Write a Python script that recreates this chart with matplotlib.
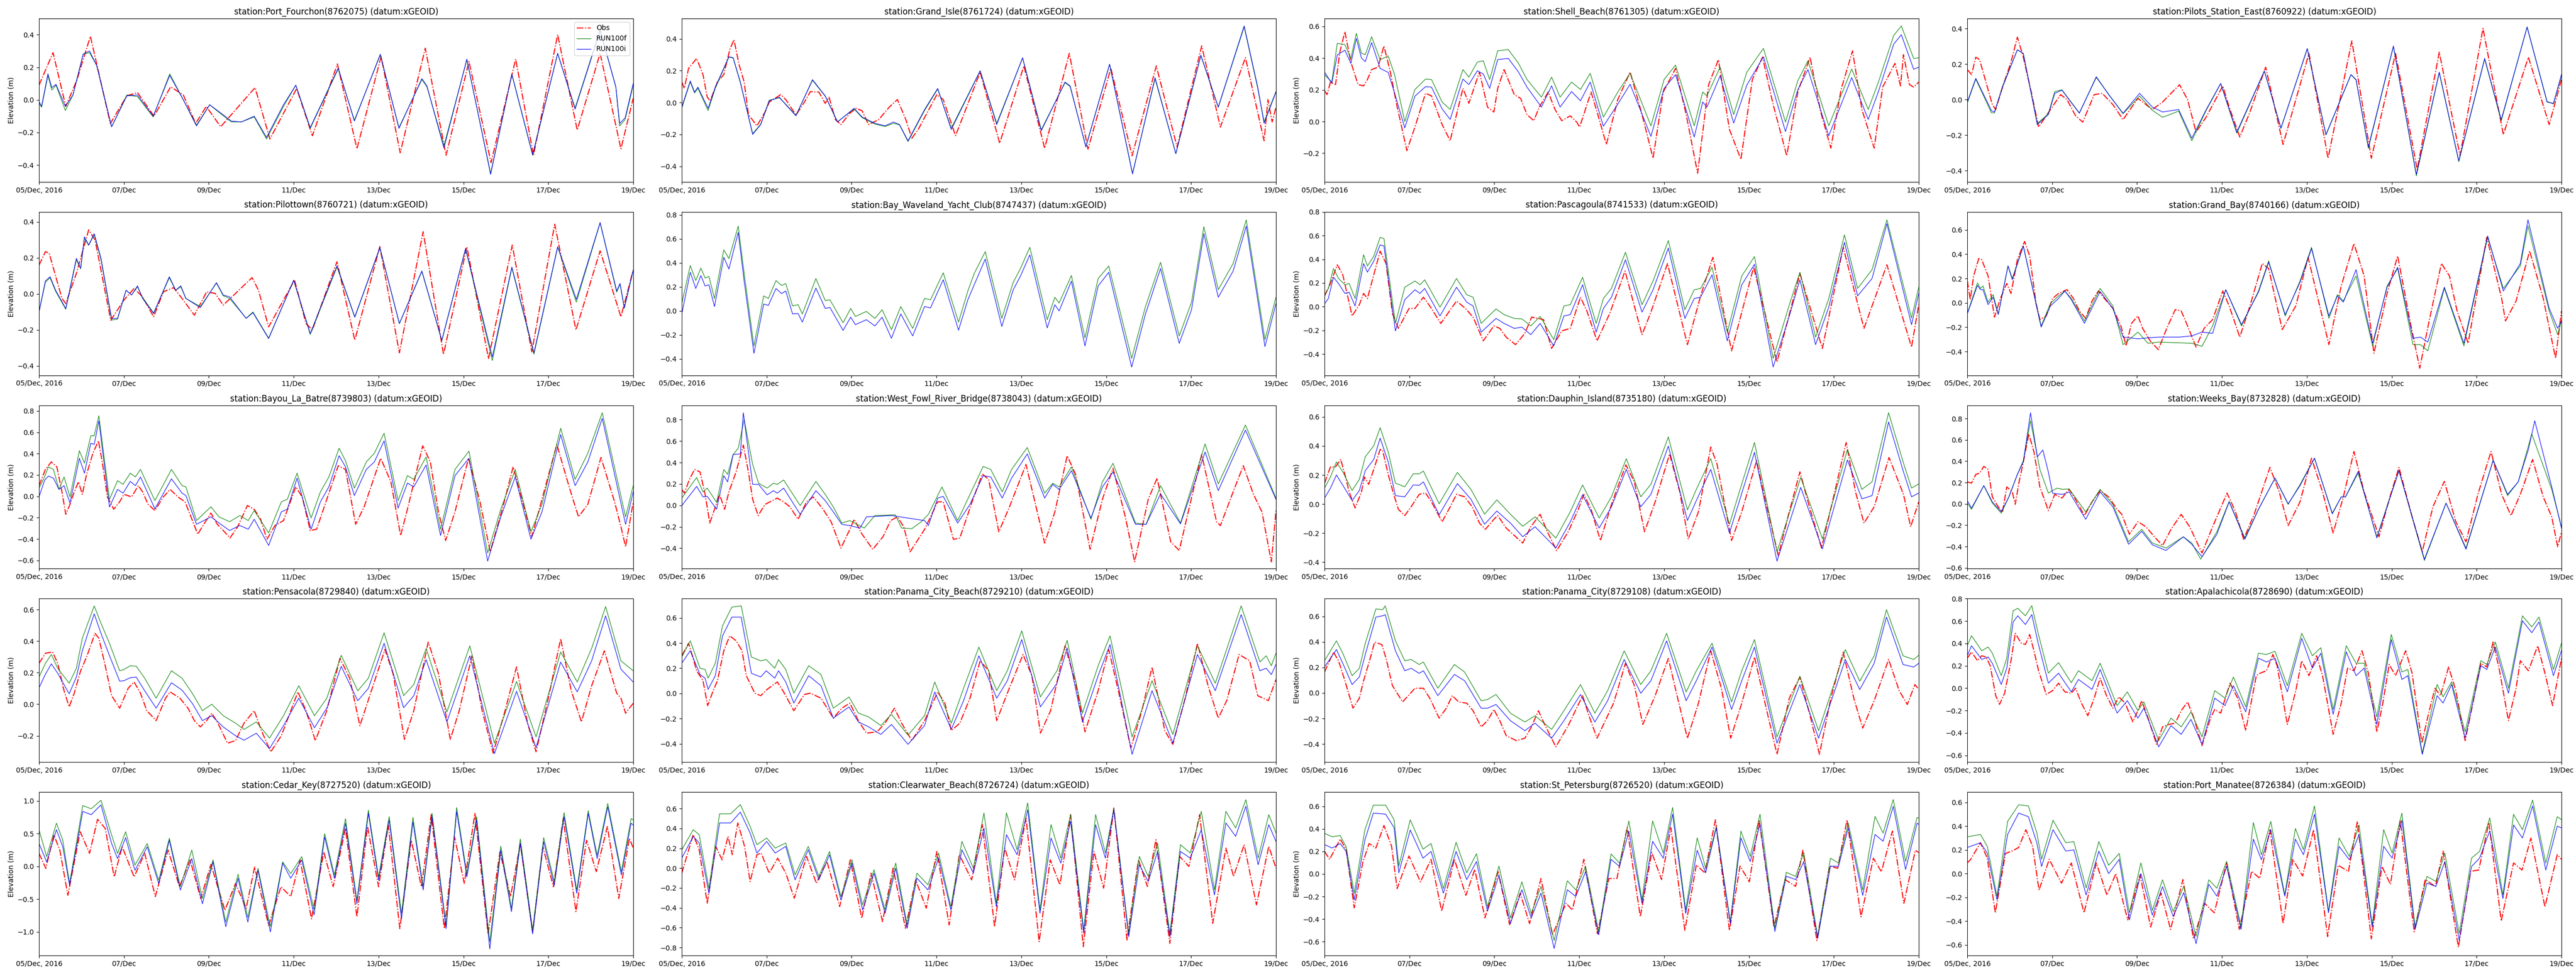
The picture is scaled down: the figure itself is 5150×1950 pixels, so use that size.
import datetime as dt
import matplotlib
matplotlib.use("Agg")
import matplotlib.pyplot as plt

# time in days after 05/Dec/2016 00:00, elevation in m (turning points)

# Port_Fourchon
PF_OT = [0,.33,.63,.89,1.21,1.68,2.07,2.32,2.71,3.1,3.4,3.69,3.94,4.28,5.09,5.44,6.07,6.44,7.03,7.49,8.06,8.51,9.1,9.59,10.13,10.65,11.23,11.65,12.22,12.68,13.22,13.71,14]
PF_OV = [.09,.29,-.04,.12,.39,-.145,.025,.045,-.10,.08,.03,-.145,-.04,-.165,.075,-.24,.07,-.22,.22,-.30,.265,-.325,.317,-.34,.235,-.385,.25,-.34,.40,-.185,.285,-.30,.01]
PF_MT = [0,.06,.21,.3,.4,.62,.8,1.04,1.19,1.36,1.71,2.07,2.32,2.69,3.08,3.4,3.71,4.02,4.28,4.53,4.77,5.07,5.36,5.76,6.05,6.39,7.05,7.43,8.04,8.48,9.02,9.14,9.54,10.08,10.64,11.14,11.63,12.22,12.63,13.22,13.59,13.68,13.81,14]
PF_F = [-.02,-.045,.15,.06,.09,-.065,.03,.28,.29,.21,-.165,.03,.02,-.105,.16,0,-.155,-.03,-.085,-.135,-.135,-.105,-.24,-.04,.09,-.175,.19,-.125,.275,-.17,.125,.08,-.28,.245,-.45,.155,-.34,.285,-.05,.43,.08,-.16,-.12,.09]
PF_I = [-.01,-.04,.16,.075,.095,-.04,.03,.28,.30,.21,-.165,.025,.03,-.10,.15,0,-.16,-.03,-.08,-.13,-.135,-.10,-.23,-.03,.09,-.17,.195,-.13,.28,-.175,.13,.085,-.295,.25,-.457,.158,-.335,.285,-.057,.425,.08,-.145,-.11,.10]

# Grand_Isle
GI_OT = [0,.06,.16,.35,.5,.6,.67,.84,.99,1.13,1.23,1.35,1.47,1.57,1.77,1.96,2.06,2.33,2.45,2.69,2.89,3.03,3.23,3.38,3.47,3.62,3.75,3.96,4.11,4.25,4.4,4.64,4.89,5.08,5.28,5.42,5.57,6.01,6.16,6.45,7.03,7.49,8.06,8.55,9.13,9.57,10.11,10.61,11.18,11.67,12.25,12.69,13.28,13.72,13.81,13.91,14]
GI_OV = [.129,.089,.215,.277,.176,.034,.011,.129,.176,.332,.395,.238,.129,-.075,-.146,-.06,.003,.05,.019,-.078,.003,.069,.066,-.005,.034,-.107,-.138,-.067,-.036,-.052,-.138,-.107,-.028,.019,-.107,-.224,-.169,.05,.019,-.208,.191,-.255,.23,-.287,.309,-.292,.215,-.334,.23,-.279,.356,-.154,.282,-.24,.019,-.122,-.028]
GI_MT = [0,.2,.3,.38,.62,.79,1.11,1.21,1.38,1.67,1.86,2.06,2.3,2.45,2.69,3.08,3.38,3.67,4.06,4.25,4.55,4.79,4.99,5.13,5.33,5.72,6.03,6.35,7.03,7.42,8.03,8.47,9.03,9.15,9.52,10.08,10.62,11.15,11.64,12.23,12.64,13.25,13.57,13.72,14]
GI_F = [-.035,.13,.06,.09,-.05,.09,.285,.28,.125,-.195,-.135,.015,.03,-.01,-.08,.14,.04,-.12,-.04,-.095,-.135,-.15,-.13,-.14,-.245,-.05,.085,-.16,.2,-.13,.28,-.17,.125,.1,-.275,.24,-.445,.15,-.32,.295,-.03,.475,.09,-.12,.07]
GI_I = [-.028,.136,.066,.097,-.036,.097,.288,.282,.129,-.2,-.138,.011,.034,-.013,-.083,.144,.042,-.122,-.036,-.091,-.13,-.146,-.122,-.138,-.24,-.044,.089,-.169,.199,-.138,.281,-.177,.129,.105,-.279,.241,-.448,.157,-.321,.298,-.028,.481,.097,-.13,.066]

# Shell_Beach
SB_OT = [0,.06,.14,.26,.36,.48,.62,.79,.92,1.01,1.11,1.26,1.4,1.55,1.7,1.94,2.13,2.38,2.52,2.77,2.96,3.26,3.4,3.65,3.84,3.99,4.08,4.23,4.47,4.62,4.77,4.93,5.06,5.27,5.43,5.59,5.79,5.94,6.01,6.28,6.44,6.64,6.91,7.2,7.48,7.74,7.98,8.27,8.52,8.79,9.05,9.28,9.54,9.81,10.08,10.32,10.57,10.89,11.15,11.44,11.69,11.93,12.17,12.44,12.66,12.95,13.15,13.44,13.57,13.64,13.78,13.88,14]
SB_OV = [.194,.17,.249,.233,.438,.567,.375,.233,.225,.265,.328,.343,.477,.312,.107,-.184,-.035,.178,.162,-.019,-.121,.209,.115,.312,.091,.06,.209,.328,.17,.146,.044,.005,.091,.186,.076,.005,.036,-.003,-.035,.186,.044,-.145,.139,.312,.044,-.231,.186,.335,.044,-.326,.233,.39,-.05,-.239,.265,.406,.107,-.216,.186,.406,.06,-.168,.202,.446,.076,-.168,.217,.367,.225,.422,.233,.217,.249]
SB_MT = [0,.17,.3,.48,.62,.75,.87,.96,1.11,1.31,1.5,1.65,1.89,2.13,2.38,2.52,2.77,2.96,3.26,3.4,3.6,3.74,3.89,4.08,4.33,4.57,4.77,5.11,5.35,5.55,5.82,6.03,6.26,6.57,6.91,7.2,7.69,8.0,8.27,8.71,8.91,9.01,9.32,9.64,9.95,10.34,10.86,11.15,11.39,11.88,12.42,12.81,13.05,13.41,13.59,13.88,14]
SB_F = [.296,.249,.493,.485,.398,.556,.43,.422,.535,.39,.414,.296,0,.202,.268,.265,.123,.076,.328,.28,.375,.383,.265,.446,.454,.367,.265,.154,.28,.154,.249,.202,.304,.028,.186,.304,-.027,.265,.356,-.027,.186,.162,.343,.044,.312,.461,-.003,.257,.383,-.027,.331,.076,.249,.543,.603,.398,.402]
SB_I = [.312,.241,.42,.45,.367,.524,.40,.378,.498,.335,.31,.18,-.04,.16,.22,.217,.08,.013,.268,.233,.32,.30,.209,.391,.398,.312,.217,.091,.225,.091,.189,.131,.249,-.03,.11,.235,-.094,.209,.296,-.098,.123,.091,.288,-.01,.23,.409,-.063,.2,.328,-.09,.277,.013,.189,.488,.548,.33,.343]

# Pilots_Station_East
PSE_OT = [0,.1,.2,.29,.44,.59,.67,.83,1.03,1.18,1.32,1.52,1.68,1.96,2.2,2.35,2.55,2.72,2.99,3.18,3.43,3.67,4.02,4.21,4.36,4.6,5.0,5.19,5.39,5.63,6.02,6.17,6.42,6.66,7.03,7.44,8.05,8.5,9.06,9.52,10.09,10.6,11.12,11.61,12.15,12.63,13.22,13.71,14]
PSE_OV = [.169,.141,.239,.225,.098,-.028,-.056,.07,.211,.352,.239,.028,-.155,-.056,.028,0,-.091,-.127,.028,.035,-.028,-.113,.007,-.028,-.056,-.014,.084,0,-.183,-.098,.077,-.042,-.211,-.07,.183,-.253,.26,-.331,.331,-.331,.26,-.394,.267,-.316,.401,-.197,.239,-.141,.113]
PSE_MT = [0,.2,.57,.64,.83,1.18,1.32,1.65,1.91,2.06,2.23,2.64,3.04,3.33,3.67,4.06,4.36,4.6,4.98,5.29,5.63,5.97,6.35,7.0,7.39,8.01,8.45,9.04,9.16,9.45,10.04,10.58,11.12,11.58,12.19,12.58,13.19,13.66,13.81,14]
PSE_F = [-.02,.115,-.075,-.075,.075,.28,.26,-.135,-.08,.045,.055,-.075,.125,.03,-.08,.02,-.06,-.1,-.065,-.232,-.06,.09,-.19,.16,-.16,.285,-.2,.14,.11,-.275,.3,-.43,.15,-.35,.228,-.12,.41,-.01,-.025,.135]
PSE_I = [-.014,.12,-.063,-.07,.07,.281,.26,-.141,-.084,.035,.053,-.077,.129,.028,-.077,.035,-.042,-.07,-.056,-.218,-.056,.091,-.183,.162,-.162,.288,-.197,.141,.113,-.267,.302,-.422,.155,-.345,.232,-.113,.408,-.014,-.021,.141]

# Pilottown
PT_OT = [0,.15,.24,.54,.63,.88,1.17,1.32,1.49,1.69,2.0,2.24,2.44,2.7,2.93,3.17,3.37,3.66,3.95,4.15,4.34,4.59,5.02,5.17,5.41,6.02,6.29,6.44,7.02,7.44,8.03,8.49,9.05,9.53,10.08,10.59,11.15,11.61,12.15,12.65,13.22,13.71,14]
PT_OV = [.16,.235,.226,-.025,-.053,.114,.356,.30,.096,-.146,-.034,.031,-.016,-.127,.012,.035,-.025,-.118,.012,.003,-.062,-.006,.091,.021,-.183,.077,-.164,-.2,.179,-.257,.263,-.327,.346,-.336,.263,-.359,.272,-.322,.388,-.2,.24,-.127,.133]
PT_MT = [0,.15,.26,.39,.63,.88,.98,1.07,1.17,1.3,1.46,1.71,1.85,2.05,2.18,2.32,2.44,2.7,3.07,3.22,3.34,3.46,3.8,4.18,4.34,4.49,4.88,5.04,5.41,6.0,6.39,7.02,7.44,8.03,8.49,9.02,9.49,10.05,10.68,11.14,11.66,12.22,12.66,13.22,13.61,13.69,13.79,14]
PT_F = [-.1,.065,.09,.015,-.085,.19,.14,.31,.27,.33,.19,-.145,-.14,.02,-.005,.04,-.02,-.105,.09,.02,.04,-.025,-.07,.06,-.01,-.025,-.135,-.1,-.245,.075,-.225,.15,-.13,.255,-.165,.125,-.26,.25,-.37,.145,-.335,.26,-.045,.395,.01,.055,-.08,.13]
PT_I = [-.099,.072,.096,.021,-.081,.198,.142,.318,.272,.335,.198,-.136,-.136,.021,-.006,.045,-.025,-.109,.096,.021,.045,-.025,-.076,.063,-.006,-.016,-.136,-.104,-.248,.077,-.22,.156,-.127,.258,-.164,.128,-.257,.253,-.35,.15,-.327,.263,-.03,.397,.017,.058,-.076,.133]

# Bay_Waveland_Yacht_Club (no observations)
BW_OT = []
BW_OV = []
BW_MT = [0,.2,.33,.45,.55,.64,.77,.99,1.11,1.33,1.47,1.7,1.93,2.04,2.22,2.35,2.45,2.61,2.74,2.84,3.16,3.38,3.49,3.8,3.98,4.09,4.35,4.55,4.72,4.94,5.16,5.44,5.72,5.86,6.16,6.52,6.74,6.89,7.15,7.54,7.81,7.98,8.2,8.61,8.79,8.89,9.18,9.5,9.81,10.06,10.6,10.92,11.28,11.72,12.01,12.3,12.64,12.99,13.3,13.74,14]
BW_F = [.062,.378,.253,.357,.274,.287,.104,.509,.436,.706,.312,-.291,.125,.104,.253,.212,.228,.042,.052,-.025,.27,.087,.093,-.098,.021,-.046,-.004,-.062,.01,-.156,.037,-.145,.104,.093,.318,-.093,.166,.312,.494,-.062,.239,.353,.53,-.073,.114,.066,.295,-.224,.27,.374,-.395,.031,.405,-.208,.073,.702,.177,.395,.758,-.239,.114]
BW_I = [-.025,.322,.187,.295,.208,.218,.037,.447,.349,.654,.249,-.353,.058,.046,.187,.145,.166,-.025,-.021,-.093,.191,.021,.029,-.162,-.052,-.114,-.073,-.125,-.052,-.228,-.025,-.208,.037,.025,.26,-.16,.093,.218,.432,-.129,.177,.291,.467,-.141,.052,0,.249,-.291,.208,.322,-.467,-.031,.353,-.27,.01,.644,.114,.332,.706,-.297,.062]

# Pascagoula
PAS_OT = [0,.14,.3,.43,.65,.82,.92,1.01,1.31,1.45,1.6,1.74,1.99,2.13,2.33,2.48,2.74,3.11,3.32,3.5,3.74,3.99,4.13,4.28,4.5,4.72,4.88,5.16,5.35,5.59,5.79,6.03,6.18,6.42,6.72,7.08,7.48,7.69,8.08,8.55,8.86,9.15,9.59,10.11,10.66,11.2,11.73,12.22,12.71,13.25,13.83,14]
PAS_OV = [.091,.196,.354,.269,-.078,.017,.112,.069,.469,.364,-.057,-.183,-.015,-.015,.08,.006,-.141,.048,-.015,-.088,-.288,-.162,-.183,-.257,-.32,-.225,-.088,-.109,-.352,-.204,-.183,.08,-.036,-.288,-.057,.301,-.236,-.046,.364,-.32,.091,.417,-.373,.333,-.467,.28,-.352,.501,-.183,.354,-.341,.017]
PAS_MT = [0,.09,.21,.33,.48,.58,.72,.92,1.01,1.16,1.31,1.4,1.67,1.89,2.13,2.25,2.36,2.72,3.11,3.35,3.5,3.69,4.04,4.23,4.47,4.65,4.86,5.08,5.4,5.64,5.79,6.08,6.4,6.57,6.76,7.09,7.48,7.74,8.1,8.49,8.71,8.86,9.13,9.49,9.83,10.13,10.57,10.96,11.2,11.57,11.88,12.25,12.56,12.9,13.25,13.83,14]
PAS_F = [.101,.154,.322,.238,.185,.196,.069,.438,.343,.427,.585,.575,-.141,.164,.217,.185,.227,-.004,.238,.101,.08,-.141,-.019,-.067,-.099,-.103,-.162,-.082,-.278,.006,.017,.248,-.141,.069,.154,.459,.017,.217,.558,-.025,.143,.154,.333,-.215,.259,.423,-.436,.027,.291,-.257,.069,.606,.154,.312,.733,-.095,.164]
PAS_I = [.023,.069,.248,.196,.112,.122,.006,.364,.291,.385,.522,.512,-.204,.059,.143,.112,.154,-.078,.164,.038,.006,-.215,-.099,-.141,-.183,-.173,-.236,-.141,-.331,-.078,-.067,.185,-.215,-.015,.08,.396,-.046,.143,.495,-.099,.069,.08,.269,-.288,.185,.358,-.509,-.067,.227,-.32,-.004,.543,.091,.238,.701,-.152,.112]

# Grand_Bay
GB_OT = [0,.07,.15,.27,.34,.49,.64,.78,.93,1.03,1.18,1.35,1.47,1.62,1.71,1.86,2.01,2.15,2.35,2.5,2.64,2.79,2.94,3.09,3.23,3.43,3.62,3.74,3.87,4.02,4.13,4.31,4.5,4.7,4.9,5.04,5.19,5.39,5.58,5.78,6.02,6.17,6.42,6.66,6.95,7.1,7.42,7.74,8.03,8.52,8.81,9.11,9.35,9.58,9.89,10.14,10.43,10.66,10.87,11.17,11.36,11.54,11.8,12.24,12.59,12.68,12.93,13.25,13.57,13.86,14]
GB_OV = [.181,.027,.222,.365,.355,.222,-.117,.037,.16,.078,.355,.505,.386,-.004,-.137,-.107,.037,.078,.109,.037,-.066,-.127,.016,.098,.037,-.045,-.189,-.353,-.168,-.107,-.209,-.312,-.384,-.209,-.055,-.066,-.189,-.363,-.209,-.137,.098,-.025,-.281,-.025,.324,.283,-.219,-.025,.375,-.343,.139,.488,.222,-.414,.078,.386,-.148,-.537,-.168,.324,.222,-.066,-.332,.539,.037,-.148,.016,.427,.037,-.455,-.066]
GB_MT = [0,.24,.31,.37,.49,.61,.73,.96,1.06,1.32,1.74,1.96,2.15,2.3,2.45,2.76,3.13,3.43,3.67,4.02,4.26,4.51,5.0,5.29,5.53,5.78,6.09,6.46,6.86,7.1,7.49,7.84,8.11,8.52,8.72,8.86,9.16,9.55,9.89,10.14,10.5,10.68,10.85,11.24,11.7,12.26,12.63,13.03,13.21,13.71,13.91,14]
GB_F = [-.086,.164,.119,.139,.006,.068,-.09,.304,.201,.468,-.189,-.004,.057,.098,.037,-.148,.119,-.025,-.343,-.24,-.332,-.322,-.328,-.332,-.357,-.189,.109,-.189,.098,.345,-.107,.181,.457,-.127,.068,.016,.222,-.353,.139,.283,-.343,-.343,-.394,.119,-.353,.539,.119,.304,.632,-.066,-.261,-.148]
GB_I = [-.09,.144,.109,.109,-.014,.047,-.096,.304,.191,.468,-.199,-.025,.037,.098,.027,-.168,.094,-.045,-.281,-.295,-.287,-.281,-.281,-.271,-.24,-.25,.109,-.178,.088,.334,-.096,.17,.447,-.107,.057,.006,.273,-.332,.129,.293,-.291,-.281,-.322,.129,-.332,.55,.098,.324,.683,-.045,-.209,-.148]

# Bayou_La_Batre
BLB_OT = [0,.15,.29,.42,.54,.63,.73,.83,.93,1.02,1.12,1.27,1.4,1.49,1.61,1.76,1.9,2.0,2.18,2.34,2.44,2.57,2.73,2.93,3.09,3.27,3.44,3.58,3.74,3.9,4.05,4.2,4.34,4.5,4.68,4.91,5.07,5.22,5.37,5.56,5.76,6.05,6.2,6.39,6.54,6.78,7.05,7.22,7.46,7.66,8.05,8.29,8.52,8.68,9.04,9.22,9.41,9.58,9.8,10.12,10.39,10.63,10.93,11.17,11.41,11.61,12.2,12.49,12.71,12.93,13.24,13.56,13.71,13.82,14]
BLB_OV = [.1,.252,.322,.276,.042,-.168,-.075,.042,.136,.019,.206,.404,.521,.322,-.005,-.121,-.051,.019,-.005,.1,.042,-.075,-.133,-.005,.065,-.005,-.051,-.192,-.355,-.25,-.157,-.262,-.32,-.39,-.285,-.086,-.121,-.215,-.402,-.273,-.227,.089,-.005,-.32,-.308,-.028,.287,.252,-.262,-.098,.357,.136,-.367,-.121,.474,.322,-.145,-.414,-.145,.357,-.051,-.519,-.098,.276,-.075,-.379,.486,.089,-.192,-.075,.364,-.051,-.285,-.472,-.051]
BLB_MT = [0,.13,.22,.34,.47,.59,.73,.95,1.07,1.22,1.3,1.41,1.66,1.85,1.98,2.15,2.27,2.39,2.73,3.12,3.37,3.46,3.71,4.05,4.24,4.49,4.73,4.93,5.07,5.41,5.71,5.85,6.08,6.41,6.63,6.83,7.07,7.22,7.43,7.71,7.9,8.13,8.46,8.68,8.83,9.12,9.46,9.8,10.13,10.57,10.88,11.22,11.59,11.85,12.29,12.63,12.93,13.27,13.82,14]
BLB_F = [.077,.182,.276,.252,.065,.182,-.005,.428,.311,.568,.568,.755,-.028,.147,.112,.217,.182,.252,-.04,.252,.1,.089,-.227,-.098,-.192,-.238,-.18,-.227,-.133,-.343,-.051,-.028,.217,-.203,.042,.182,.451,.334,.077,.322,.404,.591,-.04,.194,.159,.369,-.308,.252,.423,-.53,-.121,.252,-.332,-.075,.638,.159,.404,.783,-.192,.1]
BLB_I = [-.005,.15,.19,.17,.065,.1,-.063,.357,.217,.498,.486,.708,-.1,.065,.03,.14,.1,.182,-.117,.164,.03,.007,-.262,-.192,-.25,-.32,-.273,-.308,-.215,-.46,-.145,-.121,.171,-.308,-.051,.089,.381,.276,.007,.252,.322,.52,-.11,.124,.089,.294,-.367,.194,.357,-.607,-.192,.182,-.402,-.145,.579,.1,.322,.731,-.262,.042]

# West_Fowl_River_Bridge
WF_OT = [0,.06,.18,.3,.43,.55,.66,.79,.89,1.01,1.11,1.28,1.45,1.57,1.67,1.8,1.96,2.25,2.4,2.55,2.74,2.94,3.1,3.33,3.52,3.75,3.96,4.06,4.25,4.5,4.74,4.92,5.08,5.23,5.38,5.57,5.72,6.03,6.16,6.4,6.55,6.84,7.08,7.23,7.47,7.72,8.11,8.55,8.79,9.08,9.28,9.62,9.91,10.16,10.45,10.67,10.99,11.2,11.52,11.72,12.25,12.6,12.69,12.99,13.23,13.47,13.67,13.89,14]
WF_OV = [.149,.114,.242,.335,.312,.102,-.165,-.014,.102,-.037,.126,.312,.563,.312,.056,-.095,.009,.068,.033,-.014,-.13,.033,.079,-.037,-.154,-.398,-.224,-.13,-.27,-.41,-.293,-.142,-.107,-.2,-.433,-.317,-.224,.033,.033,-.317,-.305,.033,.293,.242,-.247,-.014,.382,-.352,-.061,.463,.289,-.41,.056,.347,-.107,-.526,.056,.254,-.34,-.421,.475,-.154,-.189,.126,.37,.102,-.061,-.526,-.049]
WF_FT = [0,.35,.5,.6,.82,.99,1.08,1.21,1.33,1.47,1.67,1.81,2.01,2.16,2.25,2.4,2.79,3.16,3.38,3.57,3.77,3.96,4.3,4.55,5.03,5.18,5.42,5.64,5.81,6.13,6.5,6.79,7.1,7.28,7.55,7.77,8.14,8.55,8.74,8.89,9.18,9.64,9.91,10.16,10.69,10.94,11.28,11.75,12.33,12.64,13.28,14]
WF_F = [.068,.261,.126,.161,.028,.335,.289,.475,.533,.801,.382,.207,.161,.207,.196,.237,-.002,.224,.102,-.014,-.165,-.142,-.212,-.095,-.088,-.212,-.217,-.154,-.084,.172,-.142,.102,.363,.335,.126,.335,.54,.114,.207,.172,.359,-.13,.219,.393,-.165,-.177,.184,-.165,.573,.2,.75,.068]
WF_IT = [0,.35,.5,.6,.82,.99,1.08,1.21,1.38,1.45,1.67,1.81,2.01,2.16,2.25,2.4,2.79,3.16,3.38,3.57,3.77,3.96,4.2,4.35,4.94,5.72,5.81,6.03,6.16,6.5,6.79,7.1,7.28,7.55,7.77,8.14,8.55,8.74,8.89,9.18,9.64,9.91,10.16,10.69,10.94,11.28,11.75,12.33,12.64,13.28,14]
WF_I = [-.002,.177,.079,.084,-.037,.277,.219,.475,.48,.864,.196,.196,.098,.137,.114,.161,-.084,.137,.044,-.061,-.177,-.189,-.212,-.107,-.095,-.142,-.189,.068,.084,-.165,.009,.277,.265,.068,.254,.48,.068,.196,.149,.324,-.119,.172,.312,-.177,-.177,.107,-.172,.498,.137,.703,.056]

# Dauphin_Island
DI_OT = [0,.14,.26,.38,.48,.58,.72,.87,.94,1.04,1.16,1.31,1.37,1.5,1.63,1.74,1.89,2.04,2.23,2.38,2.52,2.77,2.96,3.11,3.3,3.48,3.65,3.79,3.99,4.08,4.28,4.47,4.67,4.86,5.08,5.25,5.47,5.74,5.98,6.11,6.28,6.5,6.76,7.1,7.3,7.54,7.79,8.13,8.37,8.57,8.81,9.1,9.25,9.59,9.83,10.18,10.42,10.69,10.95,11.2,11.44,11.71,11.98,12.29,12.51,12.71,12.95,13.3,13.64,13.81,14]
DI_OV = [.144,.256,.256,.308,.204,.084,-.027,.084,.187,.136,.239,.376,.368,.204,.067,-.036,-.079,-.019,.067,.076,.015,-.122,-.019,.067,.05,-.019,-.131,-.174,-.105,-.079,-.165,-.216,-.268,-.156,-.07,-.191,-.32,-.191,-.036,.067,-.036,-.251,-.002,.27,.153,-.191,.015,.345,.084,-.242,-.053,.393,.273,-.251,-.053,.299,-.019,-.354,-.053,.222,-.036,-.302,.033,.424,.084,-.131,-.019,.321,.067,-.156,.015]
DI_MT = [0,.14,.28,.43,.65,.82,.96,1.16,1.31,1.5,1.67,1.89,2.09,2.23,2.33,2.7,3.13,3.45,3.77,4.06,4.38,4.67,4.96,5.45,5.79,6.08,6.47,6.76,7.11,7.45,7.69,8.1,8.55,8.76,9.1,9.54,10.13,10.66,11.22,11.73,12.32,12.66,12.9,13.29,13.64,13.83,14]
DI_F = [.11,.187,.29,.222,.093,.17,.325,.402,.526,.359,.144,.119,.208,.208,.227,.002,.218,.101,-.07,.029,-.07,-.153,-.088,-.234,-.053,.132,-.096,.05,.313,.05,.136,.462,-.04,.101,.313,-.139,.424,-.328,.184,-.239,.376,.101,.153,.629,.282,.11,.139]
DI_I = [.041,.11,.2,.13,.024,.093,.23,.308,.454,.29,.058,.05,.132,.129,.153,-.074,.141,.033,-.139,-.048,-.131,-.225,-.156,-.302,-.122,.064,-.165,-.019,.239,-.019,.067,.399,-.113,.024,.239,-.199,.356,-.393,.115,-.308,.304,.036,.058,.565,.222,.05,.076]

# Weeks_Bay
WB_OT = [0,.1,.2,.29,.39,.49,.59,.73,.83,.93,1.06,1.13,1.22,1.32,1.45,1.57,1.71,1.91,2.06,2.23,2.4,2.55,2.76,2.94,3.13,3.33,3.53,3.64,3.82,4.02,4.21,4.41,4.6,4.8,5.04,5.24,5.53,5.78,6.12,6.32,6.51,6.76,7.13,7.35,7.56,7.84,8.11,8.37,8.62,8.86,9.11,9.35,9.7,9.94,10.17,10.48,10.72,10.97,11.24,11.51,11.75,12.03,12.34,12.59,12.81,13.03,13.32,13.57,13.77,13.91,14]
WB_OV = [.206,.194,.276,.288,.351,.323,.065,-.028,-.075,.159,.112,-.005,.206,.393,.655,.487,.159,-.063,.089,.054,.136,.042,-.11,.019,.124,.065,-.051,-.098,-.285,-.168,-.215,-.309,-.391,-.239,-.098,-.215,-.461,-.215,.101,-.075,-.332,-.098,.342,.112,-.204,.019,.428,.112,-.274,.065,.491,.112,-.309,.042,.342,-.122,-.449,-.028,.211,-.168,-.356,.089,.491,.089,-.11,.089,.416,.065,-.122,-.402,-.262]
WB_FT = [0,.1,.39,.59,.8,.98,1.18,1.32,1.49,1.71,1.91,2.11,2.25,2.4,2.79,3.13,3.43,3.8,4.11,4.36,4.68,5.09,5.29,5.5,5.88,6.17,6.54,6.86,7.25,7.56,7.84,8.18,8.6,8.81,8.91,9.21,9.65,10.17,10.77,11.28,11.75,12.39,12.73,12.98,13.3,13.77,14]
WB_F = [.007,-.051,.171,.007,-.087,.065,.276,.405,.779,.323,.101,.147,.136,.14,-.075,.136,-.005,-.356,-.239,-.367,-.414,-.309,-.367,-.519,-.262,.023,-.32,-.051,.241,-.005,.182,.428,-.087,.065,.065,.288,-.309,.311,-.531,.007,-.414,.409,.077,.206,.655,.136,-.215]
WB_IT = [0,.1,.39,.59,.8,.98,1.18,1.32,1.49,1.65,1.78,1.91,2.01,2.11,2.25,2.4,2.79,3.13,3.43,3.8,4.11,4.36,4.68,5.09,5.29,5.53,5.88,6.17,6.54,6.86,7.25,7.56,7.84,8.18,8.6,8.81,8.91,9.21,9.65,10.17,10.77,11.28,11.75,12.39,12.73,12.98,13.22,13.37,13.77,14]
WB_I = [.03,-.04,.171,.019,-.075,.065,.276,.393,.854,.44,.505,.299,.1,.094,.089,.112,-.145,.112,-.028,-.379,-.257,-.384,-.437,-.309,-.379,-.496,-.285,.019,-.332,-.051,.241,0,.171,.428,-.094,.065,.065,.304,-.32,.311,-.519,.007,-.426,.409,.089,.206,.51,.779,.159,-.227]

# Pensacola
PEN_OT = [0,.15,.32,.44,.59,.71,.83,.98,1.12,1.32,1.41,1.56,1.71,1.9,2.1,2.24,2.39,2.54,2.76,2.98,3.09,3.32,3.51,3.66,3.8,3.95,4.07,4.2,4.44,4.63,4.83,5.07,5.24,5.46,5.71,6.1,6.29,6.51,6.78,7.09,7.32,7.56,7.85,8.15,8.34,8.61,8.83,9.17,9.41,9.69,9.9,10.2,10.44,10.7,10.98,11.25,11.51,11.71,12.0,12.29,12.54,12.78,13.02,13.32,13.61,13.71,13.82,14]
PEN_OV = [.259,.323,.331,.259,.085,-.017,.07,.212,.299,.449,.418,.244,.054,-.025,.101,.141,.07,-.041,-.104,.038,.078,.038,-.025,-.104,-.144,-.104,-.057,-.112,-.247,-.231,-.12,-.041,-.168,-.302,-.199,.078,-.041,-.231,-.041,.291,.165,-.136,.101,.347,.196,-.223,-.041,.394,.196,-.223,-.041,.307,-.041,-.31,-.041,.236,-.12,-.302,.038,.415,.085,-.112,.117,.339,.07,.038,-.057,.006]
PEN_MT = [0,.15,.29,.44,.71,.88,1.02,1.3,1.46,1.66,1.9,2.0,2.15,2.29,2.49,2.76,3.12,3.37,3.61,3.85,4.07,4.34,4.63,4.83,5.12,5.43,5.76,6.12,6.49,6.78,7.12,7.51,7.76,8.13,8.59,8.83,9.12,9.61,10.15,10.73,11.25,11.71,12.29,12.68,13.02,13.35,13.71,14]
PEN_F = [.172,.259,.315,.228,.133,.228,.418,.623,.513,.386,.212,.22,.244,.241,.165,.038,.212,.165,.07,-.041,0,-.073,-.12,-.16,-.112,-.215,-.073,.117,-.073,.038,.31,.085,.165,.453,.054,.125,.354,-.049,.37,-.247,.144,-.207,.331,.141,.354,.619,.275,.212]
PEN_I = [.104,.19,.256,.196,.066,.172,.339,.573,.449,.308,.146,.149,.168,.172,.085,-.025,.136,.089,.006,-.104,-.073,-.144,-.2,-.228,-.184,-.282,-.136,.038,-.149,-.025,.24,.022,.101,.386,-.022,.054,.283,-.112,.307,-.313,.082,-.275,.267,.078,.275,.56,.222,.141]

# Panama_City_Beach
PCB_OT = [0,.16,.25,.35,.5,.61,.74,.84,.99,1.13,1.28,1.42,1.52,1.72,1.86,2.01,2.25,2.4,2.64,2.89,3.03,3.28,3.57,3.77,3.96,4.16,4.35,4.6,4.79,5.01,5.18,5.42,5.72,6.03,6.2,6.35,6.55,6.79,7.03,7.23,7.42,7.67,8.04,8.25,8.45,8.69,9.03,9.28,9.5,9.81,10.06,10.3,10.58,10.84,11.08,11.38,11.57,11.86,12.15,12.4,12.64,12.84,13.13,13.38,13.57,13.82,14]
PCB_OV = [.299,.398,.299,.18,.101,-.097,.022,.101,.339,.457,.418,.339,.141,.002,-.018,.032,.091,.012,-.137,-.008,.002,-.038,-.196,-.117,-.077,-.216,-.315,-.305,-.236,-.117,-.236,-.374,-.216,.012,-.077,-.295,-.236,-.038,.259,.18,-.216,.002,.309,.141,-.315,-.137,.378,.081,-.305,.022,.348,.002,-.434,-.137,.21,-.295,-.404,-.038,.398,.061,-.196,-.057,.309,.259,-.018,-.057,.111]
PCB_MT = [0,.2,.43,.55,.62,.79,.96,1.18,1.4,1.64,1.86,1.99,2.19,2.28,2.45,2.64,2.99,3.28,3.57,3.94,4.16,4.4,4.69,4.94,5.33,5.72,5.96,6.35,6.64,7.0,7.42,7.67,8.01,8.45,8.84,9.08,9.44,9.81,10.09,10.61,11.08,11.57,12.15,12.57,13.18,13.62,13.77,13.89,14]
PCB_F = [.289,.418,.2,.19,.121,.24,.537,.685,.695,.289,.259,.269,.2,.269,.19,.002,.22,.15,-.117,-.028,-.156,-.186,-.255,-.166,-.331,-.176,.091,-.236,.042,.368,.022,.18,.497,-.028,.18,.422,-.156,.22,.457,-.345,.101,-.325,.378,.081,.695,.25,.299,.22,.319]
PCB_I = [.24,.339,.15,.121,.032,.141,.457,.606,.606,.16,.131,.18,.121,.18,.091,-.077,.141,.061,-.196,-.107,-.226,-.265,-.325,-.246,-.404,-.255,.012,-.285,-.057,.299,-.038,.101,.428,-.107,.081,.362,-.226,.141,.388,-.483,.022,-.394,.309,.022,.626,.18,.2,.15,.23]

# Panama_City
PC_OT = [0,.21,.33,.48,.67,.82,.92,1.06,1.18,1.35,1.45,1.6,1.84,2.13,2.33,2.48,2.7,2.87,3.01,3.16,3.35,3.5,3.69,3.84,3.99,4.13,4.28,4.52,4.72,4.86,5.04,5.2,5.45,5.74,6.08,6.23,6.42,6.81,7.09,7.3,7.5,7.79,8.1,8.32,8.55,8.81,9.1,9.35,9.57,9.83,10.13,10.42,10.66,10.95,11.2,11.44,11.66,11.93,12.22,12.47,12.68,12.95,13.29,13.54,13.73,13.91,14]
PC_OV = [.164,.32,.252,.096,-.119,-.041,.096,.252,.398,.379,.271,.057,-.07,.037,.037,-.041,-.197,-.119,-.021,-.07,-.08,-.139,-.266,-.217,-.129,-.217,-.334,-.373,-.354,-.275,-.139,-.256,-.422,-.256,-.021,-.178,-.354,-.08,.232,.057,-.246,-.021,.271,-.041,-.354,-.08,.33,.037,-.354,-.08,.281,-.139,-.48,-.041,.125,-.178,-.48,-.041,.32,-.041,-.275,-.061,.262,.018,-.09,.066,.027]
PC_MT = [0,.28,.43,.65,.82,.96,1.21,1.37,1.43,1.67,1.89,2.04,2.23,2.33,2.67,3.06,3.3,3.69,3.84,4.04,4.38,4.72,4.96,5.35,5.64,6.03,6.37,6.67,7.06,7.45,7.69,8.06,8.52,8.76,9.13,9.59,9.83,10.13,10.66,11.2,11.64,12.27,12.61,12.95,13.24,13.63,13.88,14]
PC_F = [.252,.408,.311,.135,.193,.389,.658,.652,.682,.408,.252,.262,.223,.242,.037,.223,.164,-.061,-.051,-.012,-.158,-.227,-.178,-.285,-.139,.066,-.158,.018,.33,.066,.174,.467,.008,.174,.389,-.07,.174,.418,-.344,.131,-.295,.34,.092,.291,.652,.291,.262,.295]
PC_I = [.203,.34,.232,.066,.125,.301,.594,.604,.613,.33,.174,.193,.154,.174,-.021,.145,.096,-.119,-.119,-.09,-.217,-.295,-.236,-.354,-.217,-.012,-.227,-.061,.262,-.002,.096,.408,-.061,.096,.359,-.129,.096,.359,-.393,.066,-.354,.262,.027,.232,.594,.223,.203,.232]

# Apalachicola
APA_OT = [0,.1,.24,.34,.44,.54,.67,.76,.88,1.03,1.13,1.27,1.37,1.47,1.57,1.68,1.86,2.01,2.15,2.3,2.45,2.55,2.69,2.84,2.99,3.13,3.28,3.43,3.57,3.72,3.9,4.02,4.11,4.26,4.46,4.6,4.75,4.9,5.04,5.19,5.34,5.53,5.73,5.83,5.97,6.19,6.37,6.56,6.81,6.9,7.05,7.2,7.3,7.54,7.74,7.88,8.05,8.23,8.37,8.62,8.81,8.96,9.11,9.3,9.45,9.65,9.79,9.94,10.09,10.33,10.48,10.71,10.87,11.02,11.15,11.34,11.51,11.73,11.9,12.1,12.24,12.39,12.54,12.75,12.93,13.03,13.22,13.44,13.61,13.79,14]
APA_OV = [.268,.324,.246,.29,.279,.201,-.067,-.145,-.045,.246,.491,.402,.391,.48,.335,.156,-.056,-.022,.045,-.033,-.045,0,-.134,-.246,-.089,.089,-.067,-.179,-.078,-.134,-.301,-.201,-.112,-.268,-.502,-.346,-.324,-.313,-.201,-.123,-.268,-.513,-.268,-.19,-.223,.045,-.089,-.379,.112,.134,.156,.301,.201,-.324,-.022,.246,.112,.29,.112,-.413,-.134,.179,.156,.335,.134,-.391,-.134,.212,.112,.335,.134,-.491,-.223,0,-.067,.19,-.022,-.469,-.156,.223,.19,.413,.156,-.29,0,.246,.156,.379,.134,-.156,.268]
APA_MT = [0,.1,.34,.49,.59,.8,.93,1.08,1.19,1.37,1.52,1.67,1.91,2.15,2.45,2.62,2.94,3.13,3.53,3.77,4.02,4.16,4.51,4.8,5.04,5.27,5.53,5.83,6.07,6.27,6.56,6.86,7.05,7.25,7.54,7.88,8.13,8.33,8.62,8.93,9.16,9.35,9.65,9.99,10.24,10.38,10.72,11.07,11.21,11.41,11.73,12.1,12.24,12.44,12.75,13.08,13.3,13.47,13.81,14]
APA_F = [.379,.469,.335,.368,.313,.112,.268,.692,.714,.647,.737,.491,.134,.228,.049,.156,.067,.223,-.156,-.033,-.201,-.123,-.469,-.268,-.346,-.212,-.435,-.022,-.089,.1,-.167,.313,.301,.33,.022,.491,.29,.362,-.19,.379,.223,.223,-.257,.48,.145,.167,-.58,.033,-.078,.056,-.391,.246,.212,.413,0,.647,.547,.636,.167,.402]
APA_I = [.29,.379,.257,.279,.223,.033,.179,.592,.647,.569,.658,.402,.045,.134,-.033,.078,-.011,.167,-.223,-.112,-.268,-.179,-.525,-.335,-.413,-.279,-.502,-.089,-.156,.022,-.212,.268,.234,.268,-.033,.446,.179,.313,-.234,.324,.112,.179,-.324,.435,.078,.112,-.592,-.067,-.134,.033,-.446,.201,.167,.368,-.045,.603,.496,.592,.112,.335]

# Cedar_Key
CK_OT = [0,.16,.35,.49,.68,.97,1.19,1.38,1.56,1.77,1.96,2.24,2.49,2.74,3.04,3.31,3.56,3.81,4.05,4.38,4.63,4.88,5.08,5.41,5.7,5.93,6.15,6.42,6.71,6.93,7.22,7.49,7.74,8.0,8.23,8.5,8.77,9.01,9.24,9.55,9.79,10.02,10.27,10.58,10.86,11.11,11.34,11.63,11.87,12.12,12.35,12.65,12.9,13.13,13.39,13.66,13.91,14]
CK_OV = [.2,-.03,.48,.25,-.44,.53,.2,.72,.58,-.16,.3,-.16,.2,-.46,.25,-.31,.1,-.49,.03,-.67,-.26,-.64,-.01,-.9,-.31,-.46,.1,-.8,.22,-.31,.58,-.77,.61,-.31,.63,-.95,.4,-.31,.79,-.95,.45,-.26,.81,-1.03,.22,-.46,.35,-1.0,.3,-.31,.73,-.69,.4,-.08,.61,-.49,.43,.28]
CK_MT = [0,.18,.41,.56,.72,1.03,1.23,1.46,1.71,1.85,2.04,2.26,2.55,2.82,3.07,3.33,3.6,3.85,4.1,4.4,4.69,4.92,5.16,5.45,5.74,5.93,6.19,6.48,6.73,6.96,7.22,7.49,7.76,8.0,8.25,8.54,8.81,9.05,9.26,9.59,9.84,10.08,10.31,10.62,10.88,11.13,11.34,11.63,11.89,12.14,12.37,12.67,12.94,13.15,13.4,13.72,13.95,14]
CK_F = [.56,.15,.66,.4,-.26,.93,.88,1.01,.48,.2,.53,.02,.35,-.21,.43,-.31,.25,-.49,.1,-.85,-.12,-.78,-.03,-.92,.07,-.11,.15,-.66,.5,-.13,.73,-.52,.86,-.16,.76,-.72,.75,-.31,.81,-.9,.9,-.11,.76,-1.15,.31,-.64,.42,-.97,.44,-.23,.82,-.36,.85,.17,.96,-.08,.73,.71]
CK_I = [.35,.07,.56,.3,-.29,.84,.79,.94,.35,.12,.44,-.06,.3,-.26,.4,-.36,.12,-.57,.07,-.92,-.18,-.85,-.06,-1.0,.05,-.18,.1,-.74,.45,-.18,.66,-.57,.81,-.21,.71,-.8,.68,-.36,.76,-.95,.84,-.16,.71,-1.26,.25,-.69,.35,-1.03,.38,-.29,.76,-.41,.81,.12,.91,-.13,.66,.63]

# Clearwater_Beach
CW_OT = [0,.27,.41,.6,.8,.95,1.09,1.19,1.32,1.48,1.61,1.77,1.87,2.06,2.26,2.45,2.65,2.94,3.17,3.42,3.72,3.97,4.24,4.46,4.73,4.98,5.27,5.51,5.76,6.01,6.3,6.54,6.83,7.08,7.37,7.61,7.84,8.11,8.42,8.68,8.91,9.16,9.46,9.71,9.94,10.18,10.49,10.76,10.97,11.17,11.5,11.73,11.95,12.2,12.51,12.82,13.0,13.25,13.54,13.83,14]
CW_OV = [-.05,.337,.185,-.354,.219,.084,.32,.135,.455,.219,-.135,.135,.152,-.051,.101,-.051,-.303,.118,-.152,.067,-.387,.084,-.505,-.051,-.539,0,-.606,-.118,-.404,.168,-.572,.135,-.118,.438,-.589,.202,-.118,.505,-.741,.084,-.168,.539,-.791,.168,-.202,.606,-.724,.084,-.185,.286,-.758,.118,.017,.539,-.556,.202,-.084,.236,-.37,.219,0]
CW_MT = [0,.27,.41,.64,.89,1.15,1.38,1.61,1.77,2.0,2.2,2.45,2.67,2.98,3.23,3.48,3.75,4.01,4.26,4.53,4.79,5.04,5.31,5.54,5.8,6.05,6.34,6.6,6.87,7.12,7.41,7.65,7.9,8.15,8.44,8.7,8.93,9.16,9.47,9.75,9.98,10.18,10.53,10.78,10.99,11.21,11.5,11.75,11.98,12.24,12.55,12.82,13.05,13.29,13.58,13.83,14]
CW_F = [.185,.387,.337,-.202,.547,.547,.64,.421,.236,.303,.202,.253,-.067,.219,-.084,.168,-.286,.084,-.37,-.017,-.421,.051,-.57,-.051,-.168,.152,-.387,.269,0,.556,-.354,.556,.185,.657,-.421,.438,.101,.539,-.623,.539,.152,.598,-.657,.118,-.084,.253,-.657,.236,.152,.572,-.219,.572,.404,.69,.101,.539,.354]
CW_I = [.101,.32,.253,-.253,.455,.455,.564,.354,.152,.269,.152,.219,-.118,.185,-.118,.135,-.32,.051,-.421,-.051,-.455,0,-.606,-.101,-.219,.101,-.421,.185,-.051,.404,-.387,.337,.135,.589,-.455,.303,.051,.471,-.657,.438,.101,.589,-.69,.034,-.135,.168,-.69,.168,.101,.387,-.269,.455,.32,.623,.034,.438,.269]

# St_Petersburg
STP_OT = [0,.12,.37,.51,.7,.9,1.05,1.21,1.4,1.58,1.71,1.99,2.26,2.51,2.76,3.06,3.33,3.54,3.78,4.09,4.36,4.61,4.83,5.1,5.37,5.69,5.84,6.11,6.43,6.7,6.89,7.13,7.44,7.71,7.94,8.16,8.49,8.76,8.96,9.21,9.54,9.79,10.01,10.24,10.59,10.85,11.1,11.27,11.6,11.9,12.09,12.31,12.64,12.93,13.12,13.38,13.65,13.92,14]
STP_OV = [.2,.13,.31,.215,-.3,.1,.27,.23,.43,.245,-.13,.16,-.07,.13,-.33,.13,-.19,.04,-.39,.02,-.45,-.17,-.44,-.04,-.54,-.26,-.32,.13,-.53,-.04,-.04,.41,-.38,.19,-.05,.41,-.5,.08,.01,.48,-.5,.07,-.07,.48,-.47,-.05,-.11,.21,-.59,.07,.05,.48,-.38,.14,.02,.38,-.26,.21,.19]
STP_MT = [0,.18,.37,.51,.7,.95,1.15,1.44,1.64,1.75,2.02,2.32,2.51,2.8,3.1,3.35,3.58,3.84,4.11,4.38,4.65,4.87,5.1,5.41,5.72,5.92,6.15,6.46,6.75,6.95,7.17,7.48,7.73,7.98,8.2,8.51,8.78,8.98,9.23,9.56,9.81,10.03,10.26,10.61,10.88,11.1,11.29,11.62,11.92,12.11,12.34,12.68,12.97,13.16,13.4,13.69,13.96,14]
STP_F = [.36,.33,.34,.24,-.17,.39,.61,.61,.48,.07,.48,.22,.27,-.13,.28,.01,.18,-.29,.07,-.39,-.07,-.35,-.111,-.59,-.06,-.141,.067,-.511,.178,.096,.47,-.23,.47,.185,.59,-.319,.32,.052,.42,-.422,.38,.156,.53,-.481,.015,-.022,.19,-.556,.14,.096,.45,-.141,.51,.363,.66,.111,.5,.496]
STP_I = [.26,.23,.27,.2,-.23,.3,.54,.53,.41,.01,.39,.14,.2,-.17,.2,-.05,.11,-.33,-.01,-.44,-.14,-.39,-.17,-.66,-.14,-.2,.02,-.54,.13,.067,.38,-.26,.29,.14,.53,-.35,.21,.01,.41,-.44,.32,.11,.44,-.51,-.02,-.05,.11,-.57,.07,.067,.41,-.19,.35,.29,.6,.04,.45,.44]

# Port_Manatee
PM_OT = [0,.08,.31,.47,.66,.9,1.05,1.21,1.38,1.54,1.69,1.93,2.22,2.45,2.75,3.04,3.29,3.5,3.78,4.07,4.32,4.56,4.79,5.08,5.33,5.59,5.82,6.11,6.41,6.7,6.89,7.13,7.44,7.67,7.9,8.16,8.49,8.74,8.98,9.19,9.52,9.77,9.97,10.2,10.53,10.79,11.03,11.21,11.57,11.86,12.05,12.29,12.58,12.87,13.07,13.28,13.61,13.9,14]
PM_OV = [.09,.12,.26,.131,-.33,.17,.19,.22,.37,.23,-.14,.12,-.08,.09,-.33,.09,-.18,0,-.39,-.01,-.45,-.16,-.47,-.05,-.55,-.25,-.33,.09,-.47,.02,-.04,.37,-.42,.12,-.02,.37,-.53,.07,.018,.44,-.55,.06,-.09,.45,-.49,-.05,-.11,.19,-.62,.02,.03,.43,-.4,.09,.03,.3,-.28,.16,.12]
PM_MT = [0,.31,.47,.7,.95,1.21,1.44,1.64,1.75,2.02,2.32,2.51,2.8,3.1,3.33,3.58,3.82,4.09,4.36,4.6,4.85,5.1,5.39,5.69,5.88,6.11,6.45,6.74,6.93,7.15,7.48,7.73,7.92,8.18,8.51,8.76,9.0,9.23,9.54,9.81,10.01,10.24,10.55,10.83,11.04,11.25,11.59,11.88,12.07,12.31,12.62,12.87,13.08,13.32,13.63,13.9,14]
PM_F = [.31,.33,.23,-.19,.44,.58,.57,.342,.12,.45,.26,.27,-.12,.27,.07,.17,-.33,.09,-.31,-.052,-.32,-.108,-.53,-.052,-.123,.103,-.446,.43,.159,.44,-.179,.38,.201,.57,-.32,.3,.145,.41,-.432,.37,.173,.51,-.446,-.024,-.066,.173,-.503,.131,.187,.47,-.179,.5,.37,.62,.089,.48,.455]
PM_I = [.22,.26,.173,-.22,.33,.51,.48,.258,.06,.37,.19,.2,-.18,.19,0,.12,-.39,0,-.35,-.11,-.36,-.16,-.59,-.09,-.19,.06,-.47,.29,.117,.37,-.19,.29,.159,.5,-.33,.23,.117,.33,-.45,.23,.131,.45,-.47,-.08,-.108,.1,-.56,.06,.131,.36,-.21,.41,.3,.57,.03,.4,.385]

STATIONS = [
    "Port_Fourchon(8762075)", "Grand_Isle(8761724)", "Shell_Beach(8761305)", "Pilots_Station_East(8760922)",
    "Pilottown(8760721)", "Bay_Waveland_Yacht_Club(8747437)", "Pascagoula(8741533)", "Grand_Bay(8740166)",
    "Bayou_La_Batre(8739803)", "West_Fowl_River_Bridge(8738043)", "Dauphin_Island(8735180)", "Weeks_Bay(8732828)",
    "Pensacola(8729840)", "Panama_City_Beach(8729210)", "Panama_City(8729108)", "Apalachicola(8728690)",
    "Cedar_Key(8727520)", "Clearwater_Beach(8726724)", "St_Petersburg(8726520)", "Port_Manatee(8726384)",
]

# (obs_t, obs_v, f_t, f_v, i_t, i_v) per station, same order as STATIONS
SERIES = [
    (PF_OT, PF_OV, PF_MT, PF_F, PF_MT, PF_I),
    (GI_OT, GI_OV, GI_MT, GI_F, GI_MT, GI_I),
    (SB_OT, SB_OV, SB_MT, SB_F, SB_MT, SB_I),
    (PSE_OT, PSE_OV, PSE_MT, PSE_F, PSE_MT, PSE_I),
    (PT_OT, PT_OV, PT_MT, PT_F, PT_MT, PT_I),
    (BW_OT, BW_OV, BW_MT, BW_F, BW_MT, BW_I),
    (PAS_OT, PAS_OV, PAS_MT, PAS_F, PAS_MT, PAS_I),
    (GB_OT, GB_OV, GB_MT, GB_F, GB_MT, GB_I),
    (BLB_OT, BLB_OV, BLB_MT, BLB_F, BLB_MT, BLB_I),
    (WF_OT, WF_OV, WF_FT, WF_F, WF_IT, WF_I),
    (DI_OT, DI_OV, DI_MT, DI_F, DI_MT, DI_I),
    (WB_OT, WB_OV, WB_FT, WB_F, WB_IT, WB_I),
    (PEN_OT, PEN_OV, PEN_MT, PEN_F, PEN_MT, PEN_I),
    (PCB_OT, PCB_OV, PCB_MT, PCB_F, PCB_MT, PCB_I),
    (PC_OT, PC_OV, PC_MT, PC_F, PC_MT, PC_I),
    (APA_OT, APA_OV, APA_MT, APA_F, APA_MT, APA_I),
    (CK_OT, CK_OV, CK_MT, CK_F, CK_MT, CK_I),
    (CW_OT, CW_OV, CW_MT, CW_F, CW_MT, CW_I),
    (STP_OT, STP_OV, STP_MT, STP_F, STP_MT, STP_I),
    (PM_OT, PM_OV, PM_MT, PM_F, PM_MT, PM_I),
]

YLIMS = [
    (-0.503, 0.499), (-0.498, 0.528), (-0.381, 0.65), (-0.464, 0.457),
    (-0.452, 0.456), (-0.536, 0.825), (-0.579, 0.80), (-0.595, 0.748),
    (-0.678, 0.853), (-0.591, 0.934), (-0.445, 0.68), (-0.608, 0.924),
    (-0.367, 0.669), (-0.545, 0.752), (-0.541, 0.738), (-0.661, 0.80),
    (-1.36, 1.135), (-0.88, 0.766), (-0.723, 0.726), (-0.69, 0.687),
]

START = dt.datetime(2016, 12, 5)


def to_dates(days):
    return [START + dt.timedelta(days=d) for d in days]


tick_days = list(range(0, 15, 2))
tick_pos = to_dates(tick_days)
tick_lab = [d.strftime("%d/%b, %Y") if i == 0 else d.strftime("%d/%b") for i, d in enumerate(tick_pos)]

fig, axes = plt.subplots(5, 4, figsize=(51.5, 19.5), dpi=100)
fig.subplots_adjust(left=0.01515, right=0.99437, top=0.98103, bottom=0.02, wspace=0.0817, hspace=0.1835)

for k, ax in enumerate(axes.flat):
    ot, ov, ft, fv, it, iv = SERIES[k]
    if ot:
        ax.plot(to_dates(ot), ov, color="r", linestyle="-.", linewidth=1.5, label="Obs")
    ax.plot(to_dates(ft), fv, color="g", linewidth=0.8, label="RUN100f")
    ax.plot(to_dates(it), iv, color="b", linewidth=0.8, label="RUN100i")
    ax.set_xlim(START, START + dt.timedelta(days=14))
    ax.set_ylim(*YLIMS[k])
    ax.set_xticks(tick_pos)
    ax.set_xticklabels(tick_lab)
    ax.set_title("station:%s (datum:xGEOID)" % STATIONS[k])
    if k % 4 in (0, 2):
        ax.set_ylabel("Elevation (m)")
    if k == 0:
        ax.legend(loc="upper right")

fig.savefig("out.png", dpi=100)
